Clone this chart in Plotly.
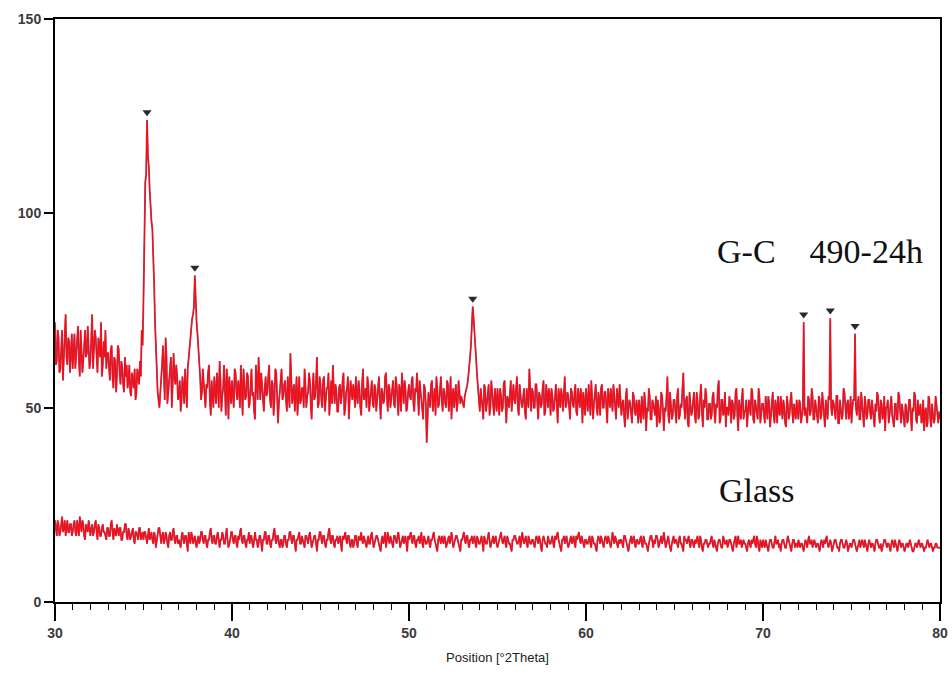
import plotly.graph_objects as go

# ---- data ----
# main readings at N.0, N.1, ... N.9 (0.1 deg steps) from 30.0 to 80.0
# half-step readings at N.05, N.15, ... N.95 from 30.05 to 79.95
x_start = 30.0
x_step = 0.1
x_half = 0.05

gc_counts = (
    [72,62,68,60,70,64,74,61,67,63] +      # 30
    [60,69,63,71,58,66,62,70,64,67] +      # 31
    [62,74,64,68,59,66,72,61,63,60] +      # 32
    [64,57,66,55,62,58,65,56,60,54] +      # 33
    [58,55,61,53,57,60,54,58,62,70] +      # 34
    [78,108,124,112,100,96,82,64,54,50] +  # 35
    [57,66,52,63,55,60,50,64,56,58] +      # 36
    [53,49,58,51,56,60,66,72,74,84] +      # 37
    [72,66,58,54,57,50,55,61,48,54] +      # 38
    [58,51,56,62,49,55,53,60,47,54] +      # 39
    [57,50,59,52,55,61,48,56,53,58] +      # 40
    [51,60,54,47,57,63,52,55,49,58] +      # 41
    [54,61,50,56,52,59,46,55,60,53] +      # 42
    [57,49,55,64,51,56,53,48,58,52] +      # 43
    [55,60,50,54,57,47,59,53,63,51] +      # 44
    [56,50,58,52,55,48,57,61,51,54] +      # 45
    [49,56,53,59,50,55,47,57,52,54] +      # 46
    [58,51,55,48,60,53,50,56,52,57] +      # 47
    [50,55,53,58,47,54,52,59,49,55] +      # 48
    [53,57,50,56,48,54,59,51,55,50] +      # 49
    [56,52,58,49,54,51,57,53,47,55] +      # 50
    [41,54,50,57,52,48,55,51,58,49] +      # 51
    [54,50,56,52,47,55,53,49,57,51] +      # 52
    [52,50,54,56,60,66,76,68,62,55] +      # 53
    [49,53,47,55,51,56,50,54,48,52] +      # 54
    [55,48,53,50,57,46,52,54,49,56] +      # 55
    [51,58,48,53,50,55,47,52,60,49] +      # 56
    [54,50,56,47,53,51,57,49,52,55] +      # 57
    [48,53,50,56,46,52,55,49,58,51] +      # 58
    [53,47,54,50,56,48,52,55,46,51] +      # 59
    [55,49,52,57,47,53,50,54,48,56] +      # 60
    [50,54,46,52,55,49,53,47,51,56] +      # 61
    [48,52,45,55,49,51,46,53,48,50] +      # 62
    [52,46,50,54,44,49,53,47,51,48] +      # 63
    [45,50,47,53,44,49,58,46,51,48] +      # 64
    [52,46,55,48,50,59,47,53,45,51] +      # 65
    [49,54,46,52,48,56,45,50,53,47] +      # 66
    [51,48,54,46,50,57,47,52,49,45] +      # 67
    [50,53,46,51,48,55,44,50,52,47] +      # 68
    [49,45,52,48,54,46,50,47,53,48] +      # 69
    [51,46,49,53,45,50,48,52,46,49] +      # 70
    [53,47,50,45,51,48,54,46,49,52] +      # 71
    [47,51,48,72,50,46,52,49,53,47] +      # 72
    [50,46,52,48,51,45,49,53,73,48] +      # 73
    [51,47,53,46,50,48,54,47,52,49] +      # 74
    [46,52,69,48,53,47,50,45,51,48] +      # 75
    [52,47,50,45,49,53,46,51,48,44] +      # 76
    [50,46,52,48,45,51,47,53,46,49] +      # 77
    [45,50,47,52,44,49,53,46,48,51] +      # 78
    [47,44,50,46,52,45,49,47,51,46] +      # 79
    [47]                                   # 80
)

gc_counts_half = (
    [61,70,59,67,57,71,63,68,59,69] +      # 30
    [67,60,68,62,70,59,68,63,71,60] +      # 31
    [69,60,70,61,68,63,58,67,70,64] +      # 32
    [59,65,58,63,54,66,59,62,56,63] +      # 33
    [61,57,54,59,55,52,60,56,58,66] +      # 34
    [92,110,115,106,98,90,72,58,52,54] +   # 35
    [61,55,68,51,59,63,56,58,61,52] +      # 36
    [57,52,55,60,50,63,69,73,76,76] +      # 37
    [69,61,52,60,53,56,59,52,57,50] +      # 38
    [54,59,50,57,53,61,48,56,58,51] +      # 39
    [53,60,54,57,50,55,60,52,59,50] +      # 40
    [56,53,49,61,52,56,59,50,55,53] +      # 41
    [58,52,57,48,60,53,51,58,52,56] +      # 42
    [52,58,50,57,54,49,58,53,51,55] +      # 43
    [50,56,53,59,51,55,52,57,50,58] +      # 44
    [52,57,49,55,59,53,51,55,56,49] +      # 45
    [55,51,57,48,54,58,52,54,56,50] +      # 46
    [53,57,50,56,52,55,58,49,55,51] +      # 47
    [56,49,57,52,55,51,58,53,56,50] +      # 48
    [55,51,58,52,56,49,55,57,49,54] +      # 49
    [53,57,51,55,59,48,54,50,56,51] +      # 50
    [47,52,56,49,55,58,50,54,52,55] +      # 51
    [51,57,49,58,53,50,56,51,54,53] +      # 52
    [51,53,55,58,63,71,73,65,58,52] +      # 53
    [55,50,56,49,54,48,57,51,55,49] +      # 54
    [51,55,49,56,51,53,50,57,53,52] +      # 55
    [55,50,56,51,54,49,55,50,53,55] +      # 56
    [50,56,51,54,50,55,48,56,50,53] +      # 57
    [55,49,54,51,55,50,53,56,50,54] +      # 58
    [50,55,51,54,49,55,50,53,54,48] +      # 59
    [51,56,48,53,51,56,48,52,55,50] +      # 60
    [54,49,55,50,52,56,48,55,50,53] +      # 61
    [51,48,53,47,52,48,54,49,52,46] +      # 62
    [49,53,47,51,50,55,47,52,49,53] +      # 63
    [52,46,54,49,50,53,48,54,47,52] +      # 64
    [48,53,47,51,55,50,52,46,54,48] +      # 65
    [52,48,54,47,53,49,52,55,47,51] +      # 66
    [47,53,49,51,55,46,52,48,54,50] +      # 67
    [48,51,52,47,54,48,52,47,55,49] +      # 68
    [52,48,50,55,47,52,48,55,46,51] +      # 69
    [48,53,47,51,49,54,46,50,53,48] +      # 70
    [49,52,46,53,47,52,49,51,47,50] +      # 71
    [52,46,50,48,47,53,48,55,47,52] +      # 72
    [48,53,47,54,48,52,47,52,50,52] +      # 73
    [48,53,46,52,47,55,49,51,47,53] +      # 74
    [50,52,50,51,47,54,48,53,47,52] +      # 75
    [49,52,47,51,54,48,52,47,53,50] +      # 76
    [52,48,53,46,51,47,54,49,51,47] +      # 77
    [51,46,52,48,50,54,47,52,49,46] +      # 78
    [52,49,45,53,47,51,46,53,48,49]        # 79
)

glass_counts = (
    [21,17,20,18,22,19,17,21,18,20] +  # 30
    [18,21,17,19,22,18,20,16,19,21] +  # 31
    [17,20,18,21,16,19,17,20,18,16] +  # 32
    [19,17,21,16,18,20,17,19,16,18] +  # 33
    [20,16,18,17,19,15,18,16,19,17] +  # 34
    [16,18,15,19,17,16,18,14,17,19] +  # 35
    [15,18,16,17,14,18,16,19,15,17] +  # 36
    [16,14,18,15,17,13,16,18,15,17] +  # 37
    [14,17,16,18,15,17,14,16,19,15] +  # 38
    [17,15,18,14,16,17,15,19,14,16] +  # 39
    [18,15,17,14,16,19,15,17,14,16] +  # 40
    [15,17,14,18,16,15,17,13,16,18] +  # 41
    [15,17,14,16,19,15,17,14,16,15] +  # 42
    [17,14,16,18,15,17,13,16,18,15] +  # 43
    [16,14,17,15,18,14,16,17,13,16] +  # 44
    [18,15,17,14,16,19,15,17,14,16] +  # 45
    [15,17,13,16,18,15,17,14,16,15] +  # 46
    [17,14,16,18,15,16,14,17,15,18] +  # 47
    [14,16,17,15,13,17,16,14,18,15] +  # 48
    [16,14,17,15,18,14,16,15,17,13] +  # 49
    [16,18,15,17,14,16,15,18,14,16] +  # 50
    [15,17,14,16,18,15,13,17,15,16] +  # 51
    [17,14,16,15,18,14,16,17,15,13] +  # 52
    [16,18,15,17,14,16,15,17,14,16] +  # 53
    [15,17,13,16,15,18,14,16,15,17] +  # 54
    [14,16,18,15,17,14,16,15,13,16] +  # 55
    [17,15,16,14,18,15,17,14,16,15] +  # 56
    [16,14,17,15,16,13,17,15,14,16] +  # 57
    [15,17,14,16,18,15,13,16,15,17] +  # 58
    [14,16,15,17,14,16,18,15,16,14] +  # 59
    [16,15,17,14,16,15,13,17,15,16] +  # 60
    [14,17,15,16,14,18,15,16,14,15] +  # 61
    [16,14,17,15,13,16,15,17,14,16] +  # 62
    [15,17,14,16,15,13,16,17,14,15] +  # 63
    [17,14,16,15,18,14,16,15,13,16] +  # 64
    [15,16,14,17,15,13,16,15,17,14] +  # 65
    [16,14,15,17,14,16,13,15,16,14] +  # 66
    [15,17,14,15,13,16,15,14,16,15] +  # 67
    [14,16,15,13,16,14,17,15,14,16] +  # 68
    [15,13,16,14,15,17,14,16,13,15] +  # 69
    [16,14,15,13,16,15,14,17,15,14] +  # 70
    [13,16,15,14,17,15,13,16,14,15] +  # 71
    [16,14,15,13,16,14,17,15,14,16] +  # 72
    [14,15,13,16,14,15,17,14,16,13] +  # 73
    [15,16,14,13,16,15,14,16,13,15] +  # 74
    [14,16,15,13,15,14,16,14,15,13] +  # 75
    [16,14,15,13,16,15,14,13,15,16] +  # 76
    [14,15,13,16,14,15,13,16,14,15] +  # 77
    [13,15,14,16,14,13,15,14,16,14] +  # 78
    [15,13,14,16,14,15,13,14,15,14] +  # 79
    [14]                               # 80
)

glass_counts_half = (
    [19,21,17,20,18,21,19,18,20,17] +  # 30
    [20,18,21,17,19,21,17,20,18,19] +  # 31
    [19,17,20,18,20,17,19,18,17,19] +  # 32
    [17,20,18,19,17,18,19,16,18,20] +  # 33
    [17,19,16,18,16,18,17,19,16,18] +  # 34
    [18,16,17,16,18,15,17,16,19,16] +  # 35
    [17,15,18,15,17,16,18,16,17,15] +  # 36
    [15,17,16,17,15,18,15,17,16,15] +  # 37
    [16,15,18,16,17,15,16,18,16,17] +  # 38
    [15,17,16,16,18,15,17,16,15,18] +  # 39
    [16,17,15,17,18,16,17,15,16,18] +  # 40
    [17,15,16,16,14,17,15,16,18,15] +  # 41
    [17,15,16,18,16,17,15,16,14,17] +  # 42
    [15,16,18,16,17,15,16,17,15,17] +  # 43
    [15,17,16,17,16,15,17,15,16,18] +  # 44
    [16,17,15,16,18,16,17,15,16,17] +  # 45
    [16,15,17,17,16,17,15,16,14,17] +  # 46
    [15,17,16,16,17,15,16,15,17,16] +  # 47
    [15,17,16,14,16,15,18,16,16,17] +  # 48
    [15,17,16,17,16,15,17,16,15,17] +  # 49
    [17,16,17,15,16,17,16,15,17,15] +  # 50
    [16,15,16,17,16,14,16,16,17,15] +  # 51
    [16,15,17,16,16,15,17,16,14,16] +  # 52
    [17,16,17,15,16,17,16,15,17,15] +  # 53
    [16,15,17,15,17,16,15,17,16,15] +  # 54
    [15,17,16,16,15,17,15,14,16,17] +  # 55
    [16,15,17,16,16,16,15,17,15,16] +  # 56
    [15,16,16,17,14,16,16,15,17,15] +  # 57
    [16,15,17,17,16,14,16,17,16,15] +  # 58
    [15,17,16,15,17,17,16,17,15,16] +  # 59
    [15,16,15,17,15,14,16,16,17,15] +  # 60
    [16,16,17,15,16,16,17,15,16,16] +  # 61
    [15,17,16,14,15,17,16,15,16,15] +  # 62
    [16,15,17,15,14,15,17,15,16,17] +  # 63
    [16,15,17,16,16,15,17,14,15,17] +  # 64
    [16,15,16,15,14,17,16,16,15,16] +  # 65
    [15,16,16,15,17,14,15,16,15,15] +  # 66
    [16,15,16,14,15,16,14,17,15,16] +  # 67
    [15,16,14,15,17,16,15,16,15,15] +  # 68
    [14,15,15,16,16,15,17,14,16,14] +  # 69
    [15,16,14,15,16,14,16,15,16,15] +  # 70
    [15,16,14,16,16,14,15,16,15,14] +  # 71
    [15,15,14,15,15,16,15,16,15,15] +  # 72
    [15,14,15,15,16,16,15,15,15,14] +  # 73
    [16,15,14,15,16,14,15,15,14,15] +  # 74
    [15,16,14,14,16,15,15,16,14,15] +  # 75
    [15,15,14,15,16,14,15,14,16,15] +  # 76
    [15,14,15,15,16,14,15,15,15,14] +  # 77
    [14,15,15,15,13,14,15,15,15,15] +  # 78
    [14,14,15,15,15,14,14,15,14,14]    # 79
)

peak_pos = [35.2, 37.9, 53.6, 72.3, 73.8, 75.2]
peak_counts = [126, 86, 78, 74, 75, 71]

x_ticks = [30, 40, 50, 60, 70, 80]
y_ticks = [0, 50, 100, 150]

label_gc = "G-C&#160;&#160;&#160;&#160;490-24h"
label_glass = "Glass"


def merged(main, half):
    pts = [(round(x_start + i * x_step, 2), v) for i, v in enumerate(main)]
    pts += [(round(x_start + x_half + i * x_step, 2), v) for i, v in enumerate(half)]
    pts.sort()
    return [p[0] for p in pts], [p[1] for p in pts]


gc_x, gc_y = merged(gc_counts, gc_counts_half)
glass_x, glass_y = merged(glass_counts, glass_counts_half)

fig = go.Figure()
for xs, ys in ((gc_x, gc_y), (glass_x, glass_y)):
    fig.add_trace(go.Scatter(x=xs, y=ys, mode="lines", hoverinfo="skip",
                             line=dict(color="#a04575", width=1.8), showlegend=False))
    fig.add_trace(go.Scatter(x=xs, y=ys, mode="lines",
                             line=dict(color="#ff0a0a", width=1.1), showlegend=False))
fig.add_trace(go.Scatter(x=peak_pos, y=peak_counts, mode="markers",
                         marker=dict(symbol="triangle-down", size=8, color="#2a2a2a"),
                         showlegend=False))

fig.add_annotation(x=73.2, y=90.3, text=label_gc, showarrow=False,
                   font=dict(family="Liberation Serif", size=34, color="#111111"))
fig.add_annotation(x=69.65, y=28.8, text=label_glass, showarrow=False,
                   font=dict(family="Liberation Serif", size=34, color="#111111"))

tick_font = dict(family="Liberation Sans", size=14, color="#3a3a3a", weight="bold")

fig.update_layout(
    width=952, height=677,
    margin=dict(l=55, r=12, t=19, b=75, autoexpand=False),
    paper_bgcolor="white", plot_bgcolor="white",
    font=dict(family="Liberation Sans", size=14, color="#333333"),
)
fig.update_xaxes(range=[30, 80], tickvals=x_ticks, showgrid=False, zeroline=False,
                 automargin=False, tickfont=tick_font,
                 showline=True, linecolor="black", linewidth=2, mirror=True,
                 ticks="outside", ticklen=17, tickwidth=1.5, tickcolor="black",
                 minor=dict(dtick=1, ticks="outside", ticklen=6, tickcolor="black", tickwidth=1),
                 title=dict(text="Position [°2Theta]", standoff=13,
                            font=dict(family="Liberation Sans", size=13, color="#222222")))
fig.update_yaxes(range=[0, 150], tickvals=y_ticks, showgrid=False, zeroline=False,
                 automargin=False, tickfont=tick_font,
                 showline=True, linecolor="black", linewidth=2, mirror=True,
                 ticks="outside", ticklen=9, tickwidth=1.5, tickcolor="black")

fig.write_html("out.html")
